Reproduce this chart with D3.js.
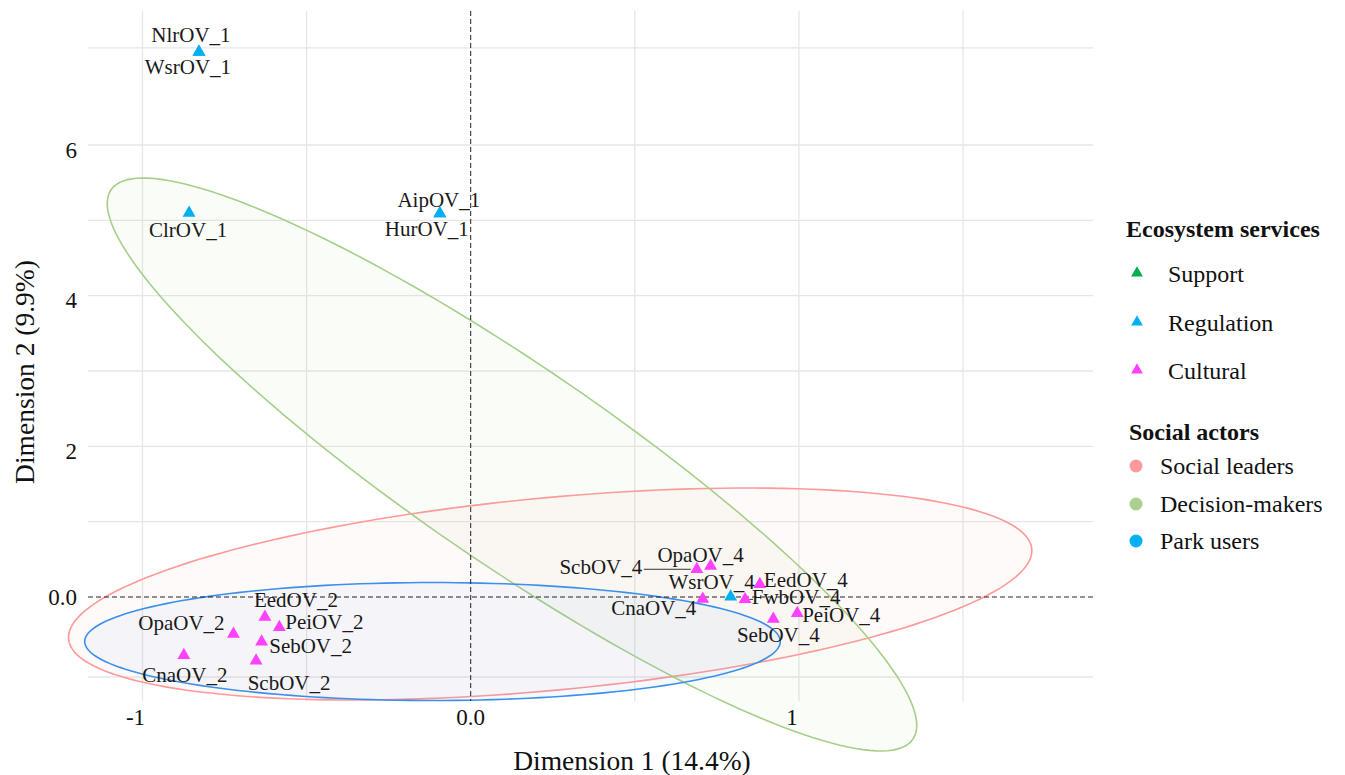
<!DOCTYPE html>
<html>
<head>
<meta charset="utf-8">
<script src="https://cdn.jsdelivr.net/npm/d3@7"></script>
<style>
  html, body { margin: 0; padding: 0; background: #ffffff; }
  svg { display: block; }
  text { font-family: "Liberation Serif", "Times New Roman", serif; }
</style>
</head>
<body>
<svg id="chart" width="1345" height="775"></svg>
<script>
// ---------------- DATA ----------------
const pointLabels = ["NlrOV_1","WsrOV_1","ClrOV_1","AipOV_1","HurOV_1",
  "EedOV_2","PeiOV_2","OpaOV_2","SebOV_2","CnaOV_2","ScbOV_2",
  "ScbOV_4","OpaOV_4","WsrOV_4","EedOV_4","CnaOV_4","FwbOV_4","PeiOV_4","SebOV_4"];
const dim1 = [-0.828,-0.828,-0.858,-0.094,-0.094,
  -0.627,-0.583,-0.723,-0.637,-0.874,-0.654,
  0.689,0.731,0.792,0.881,0.707,0.836,0.995,0.922];
const dim2 = [7.235,7.235,5.098,5.091,5.091,
  -0.266,-0.402,-0.491,-0.593,-0.774,-0.846,
  0.368,0.412,0.004,0.169,-0.027,-0.031,-0.216,-0.292];
const pointService = ["Regulation","Regulation","Regulation","Regulation","Regulation",
  "Cultural","Cultural","Cultural","Cultural","Cultural","Cultural",
  "Cultural","Cultural","Regulation","Cultural","Cultural","Cultural","Cultural","Cultural"];

const serviceNames = ["Support","Regulation","Cultural"];
const actorNames = ["Social leaders","Decision-makers","Park users"];

// confidence ellipses (data units): centre and two half-axis vectors
const ellipseActor = ["Social leaders","Decision-makers","Park users"];
const ellipseCx = [0.2422, 0.1258, -0.1164];
const ellipseCy = [0.0398, 1.759, -0.591];
const ellipseU = [[1.4674, 0.5991], [1.2216, -3.6467], [1.0597, 0.0]];
const ellipseV = [[0.0273, -1.2728], [-0.1693, -1.0778], [0.0, -0.783]];

const xTicks = [-1, 0, 1];
const xTickLabels = ["-1", "0.0", "1"];
const yTicks = [0, 2, 4, 6];
const yTickLabels = ["0.0", "2", "4", "6"];
const xGrid = [-1, -0.5, 0.5, 1, 1.5];
const yGrid = [-1.062, 1, 2, 3, 4, 5, 6, 7.288];

const xTitle = "Dimension 1 (14.4%)";
const yTitle = "Dimension 2 (9.9%)";
const legendTitle1 = "Ecosystem services";
const legendTitle2 = "Social actors";

// ---------------- LAYOUT / STYLE ----------------
const serviceColor = { "Support": "#00ad4f", "Regulation": "#00b0f0", "Cultural": "#ff40ff" };
const actorColor = { "Social leaders": "#ff9a9a", "Decision-makers": "#a9d08e", "Park users": "#00b0f0" };
const ellipseStroke = { "Social leaders": "#ff9999", "Decision-makers": "#a6cf8a", "Park users": "#3d8fec" };
const ellipseFillOpacity = { "Social leaders": 0.05, "Decision-makers": 0.06, "Park users": 0.05 };

// label offsets in px from the point (repel layout)
const labelOffsets = [[-8,-17],[-11,15],[-1,17],[-1,-13],[-13,16],
  [31,-17],[45,-5],[-52,-11],[49,4],[1,20],[33,22],
  [-96,-2],[-10,-11],[-19,-15],[46,-4],[-49,9],[51,-2],[44,2],[5,16]];
const labelSegment = { "ScbOV_4": true, "FwbOV_4": true };

const panel = { left: 88, right: 1093, top: 11, bottom: 701 };

const x = d3.scaleLinear().domain([-1, 1.5]).range([142.5, 963]);
const y = d3.scaleLinear().domain([0, 6]).range([597, 145]);

const svg = d3.select("#chart");

// grid
svg.append("g").selectAll("line").data(xGrid).join("line")
  .attr("x1", d => x(d)).attr("x2", d => x(d))
  .attr("y1", panel.top).attr("y2", panel.bottom)
  .attr("stroke", "#e6e6e6").attr("stroke-width", 1.3);
svg.append("g").selectAll("line").data(yGrid).join("line")
  .attr("x1", panel.left).attr("x2", panel.right)
  .attr("y1", d => y(d)).attr("y2", d => y(d))
  .attr("stroke", "#e6e6e6").attr("stroke-width", 1.3);

// ellipses
const tSteps = d3.range(0, 361, 2).map(a => a * Math.PI / 180);
const ellLine = d3.line().x(d => x(d[0])).y(d => y(d[1])).curve(d3.curveLinearClosed);
const ellG = svg.append("g");
ellipseActor.forEach((actor, i) => {
  const pts = tSteps.map(t => [
    ellipseCx[i] + ellipseU[i][0] * Math.cos(t) + ellipseV[i][0] * Math.sin(t),
    ellipseCy[i] + ellipseU[i][1] * Math.cos(t) + ellipseV[i][1] * Math.sin(t)
  ]);
  ellG.append("path").attr("d", ellLine(pts))
    .attr("fill", ellipseStroke[actor]).attr("fill-opacity", ellipseFillOpacity[actor])
    .attr("stroke", ellipseStroke[actor]).attr("stroke-width", 1.6);
});

// zero reference lines
svg.append("line").attr("x1", x(0)).attr("x2", x(0))
  .attr("y1", panel.top).attr("y2", panel.bottom)
  .attr("stroke", "#222").attr("stroke-width", 1).attr("stroke-dasharray", "5,3");
svg.append("line").attr("x1", panel.left).attr("x2", panel.right)
  .attr("y1", y(0)).attr("y2", y(0))
  .attr("stroke", "#222").attr("stroke-width", 1).attr("stroke-dasharray", "5,3");

// tick labels
svg.append("g").selectAll("text").data(xTicks).join("text")
  .attr("x", (d) => x(d) + (d === 0 ? 0 : -7))
  .attr("y", 717).attr("dominant-baseline", "central")
  .attr("text-anchor", "middle").attr("font-size", 23).attr("fill", "#111")
  .text((d, i) => xTickLabels[i]);
svg.append("g").selectAll("text").data(yTicks).join("text")
  .attr("x", 77)
  .attr("y", d => y(d) + (d === 0 ? 0 : 5)).attr("dominant-baseline", "central")
  .attr("text-anchor", "end").attr("font-size", 23).attr("fill", "#111")
  .text((d, i) => yTickLabels[i]);

// axis titles
svg.append("text").attr("x", 632).attr("y", 760).attr("dominant-baseline", "central")
  .attr("text-anchor", "middle").attr("font-size", 27.5).attr("fill", "#111").text(xTitle);
svg.append("text").attr("transform", "translate(24,372) rotate(-90)")
  .attr("dominant-baseline", "central")
  .attr("text-anchor", "middle").attr("font-size", 27.5).attr("fill", "#111").text(yTitle);

// points data
const pts = pointLabels.map((lab, i) => ({
  label: lab, x: dim1[i], y: dim2[i], service: pointService[i],
  dx: labelOffsets[i][0], dy: labelOffsets[i][1]
}));

// label segments
const segG = svg.append("g");
pts.filter(p => labelSegment[p.label]).forEach(p => {
  const px = x(p.x), py = y(p.y);
  const halfW = 43;
  const lx = p.dx < 0 ? px + p.dx + halfW : px + p.dx - halfW;
  segG.append("line")
    .attr("x1", px + (p.dx < 0 ? -6 : 4)).attr("y1", py)
    .attr("x2", lx).attr("y2", py + p.dy + 2)
    .attr("stroke", "#333").attr("stroke-width", 1);
});

// points
const tri = d3.symbol().type(d3.symbolTriangle).size(72);
svg.append("g").selectAll("path").data(pts).join("path")
  .attr("d", tri)
  .attr("transform", d => `translate(${x(d.x)},${y(d.y)})`)
  .attr("fill", d => serviceColor[d.service]);

// labels
svg.append("g").selectAll("text").data(pts).join("text")
  .attr("x", d => x(d.x) + d.dx).attr("y", d => y(d.y) + d.dy)
  .attr("text-anchor", "middle").attr("dominant-baseline", "central")
  .attr("font-size", 21).attr("fill", "#1a1a1a")
  .text(d => d.label);

// legend
const lg = svg.append("g");
lg.append("text").attr("x", 1126).attr("y", 229).attr("dominant-baseline", "central")
  .attr("font-size", 24).attr("font-weight", "bold").attr("fill", "#111").text(legendTitle1);
const serviceY = [273, 322, 370];
serviceNames.forEach((s, i) => {
  lg.append("path").attr("d", d3.symbol().type(d3.symbolTriangle).size(60)())
    .attr("transform", `translate(1137,${serviceY[i]})`).attr("fill", serviceColor[s]);
  lg.append("text").attr("x", 1168).attr("y", serviceY[i] + 1).attr("dominant-baseline", "central")
    .attr("font-size", 24).attr("fill", "#111").text(s);
});
lg.append("text").attr("x", 1129).attr("y", 432).attr("dominant-baseline", "central")
  .attr("font-size", 24).attr("font-weight", "bold").attr("fill", "#111").text(legendTitle2);
const actorY = [466, 504, 541];
actorNames.forEach((a, i) => {
  lg.append("circle").attr("cx", 1136).attr("cy", actorY[i]).attr("r", 6.5)
    .attr("fill", actorColor[a]);
  lg.append("text").attr("x", 1160).attr("y", actorY[i]).attr("dominant-baseline", "central")
    .attr("font-size", 24).attr("fill", "#111").text(a);
});
</script>
</body>
</html>
